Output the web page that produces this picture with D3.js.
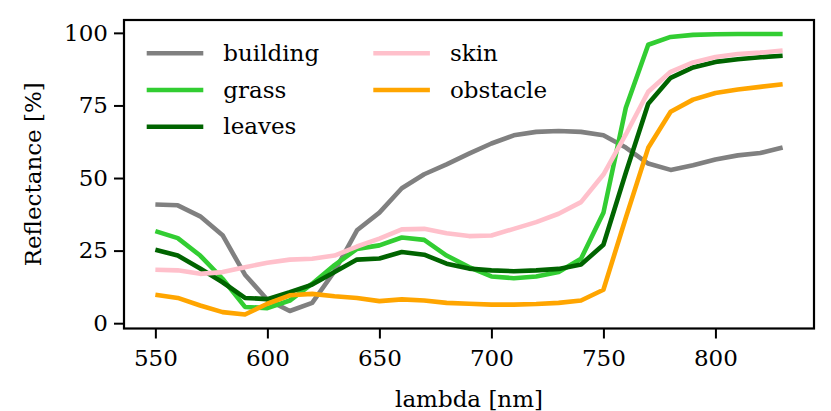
<!DOCTYPE html>
<html>
<head>
<meta charset="utf-8">
<script src="https://cdn.jsdelivr.net/npm/d3@7"></script>
<style>
  html, body { margin: 0; padding: 0; background: #fff; }
  svg { display: block; }
  text { font-family: "DejaVu Serif", serif; fill: #000; }
</style>
</head>
<body>
<svg id="chart" width="831" height="411"></svg>
<script>
const lambda = [550,560,570,580,590,600,610,620,630,640,650,660,670,680,690,700,710,720,730,740,750,760,770,780,790,800,810,820,830];
const building = [40.9,40.6,36.8,30.3,16.7,8.1,4.2,7.0,17.9,32.0,38.1,46.5,51.3,54.7,58.4,61.9,64.7,65.9,66.2,65.9,64.7,60.5,55.0,52.8,54.4,56.4,57.8,58.6,60.5];
const grass = [31.7,29.3,23.3,15.3,5.6,5.2,7.8,13.6,20.0,25.6,26.8,29.5,28.7,23.3,19.3,16.1,15.5,16.1,17.6,22.2,38.0,74.2,95.9,98.6,99.3,99.5,99.6,99.6,99.6];
const leaves = [25.3,23.3,18.8,14.1,8.7,8.3,10.7,13.3,17.6,21.9,22.3,24.5,23.6,20.5,18.8,18.2,17.9,18.2,18.7,20.2,27.0,51.8,75.6,84.5,88.1,90.0,90.9,91.6,92.1];
const skin = [18.4,18.2,17.0,17.6,19.3,20.8,21.9,22.2,23.3,26.4,29.1,32.3,32.5,31.0,30.0,30.2,32.5,34.8,37.7,41.7,51.2,65.0,79.7,86.6,89.8,91.7,92.7,93.2,93.9];
const obstacle = [9.8,8.7,6.1,3.8,3.0,6.7,9.6,10.1,9.3,8.7,7.6,8.2,7.8,7.0,6.7,6.4,6.4,6.6,7.0,7.8,11.5,36.3,60.4,72.8,77.0,79.3,80.5,81.4,82.3];
const seriesNames = ["building","grass","leaves","skin","obstacle"];
const seriesColors = ["#808080","#32cd32","#006400","#ffc0cb","#ffa500"];
const xTicks = [550,600,650,700,750,800];
const yTicks = [0,25,50,75,100];

const series = [building, grass, leaves, skin, obstacle];

const svg = d3.select("#chart");
const L = 124, R = 814, T = 20, B = 328.5;

// matplotlib-like 5% margins
const xmin = d3.min(lambda), xmax = d3.max(lambda);
const xpad = (xmax - xmin) * 0.05;
const allY = series.flat();
const ymin = d3.min(allY), ymax = d3.max(allY);
const ypad = (ymax - ymin) * 0.05;

const x = d3.scaleLinear().domain([xmin - xpad, xmax + xpad]).range([L, R]);
const y = d3.scaleLinear().domain([ymin - ypad, ymax + ypad]).range([B, T]);

const FS = 23;

// lines
const line = d3.line().x((d, i) => x(lambda[i])).y(d => y(d));
const plot = svg.append("g");
series.forEach((s, k) => {
  plot.append("path")
    .datum(s)
    .attr("d", line)
    .attr("fill", "none")
    .attr("stroke", seriesColors[k])
    .attr("stroke-width", 4.6)
    .attr("stroke-linejoin", "round")
    .attr("stroke-linecap", "butt");
});

// axes
const xAxis = d3.axisBottom(x).tickValues(xTicks).tickSize(10).tickPadding(6).tickFormat(d3.format("d"));
const yAxis = d3.axisLeft(y).tickValues(yTicks).tickSize(10).tickPadding(6).tickFormat(d3.format("d"));

const gx = svg.append("g").attr("transform", `translate(0,${B})`).call(xAxis);
const gy = svg.append("g").attr("transform", `translate(${L},0)`).call(yAxis);
[gx, gy].forEach(g => {
  g.select(".domain").remove();
  g.selectAll(".tick line").attr("stroke", "#000").attr("stroke-width", 2);
  g.selectAll(".tick text").style("font-family", "'DejaVu Serif', serif").style("font-size", FS + "px").attr("fill", "#000");
});
gx.selectAll(".tick text").attr("dy", "0.95em");

// frame
svg.append("rect")
  .attr("x", L).attr("y", T).attr("width", R - L).attr("height", B - T)
  .attr("fill", "none").attr("stroke", "#000").attr("stroke-width", 2.2);

// axis titles
svg.append("text")
  .attr("x", (L + R) / 2).attr("y", 407)
  .attr("text-anchor", "middle")
  .style("font-size", FS + "px")
  .text("lambda [nm]");
svg.append("text")
  .attr("transform", `translate(41,${(T + B) / 2}) rotate(-90)`)
  .attr("text-anchor", "middle")
  .style("font-size", FS + "px")
  .text("Reflectance [%]");

// legend
const legendPos = [
  {x1: 146.7, y: 53.3}, {x1: 146.7, y: 90}, {x1: 146.7, y: 126.7},
  {x1: 373.3, y: 53.3}, {x1: 373.3, y: 90}
];
const lg = svg.append("g");
seriesNames.forEach((name, k) => {
  const p = legendPos[k];
  lg.append("line")
    .attr("x1", p.x1).attr("x2", p.x1 + 56.6)
    .attr("y1", p.y).attr("y2", p.y)
    .attr("stroke", seriesColors[k]).attr("stroke-width", 4.6);
  lg.append("text")
    .attr("x", p.x1 + 76.6).attr("y", p.y + 7.5)
    .style("font-size", FS + "px")
    .text(name);
});
</script>
</body>
</html>
